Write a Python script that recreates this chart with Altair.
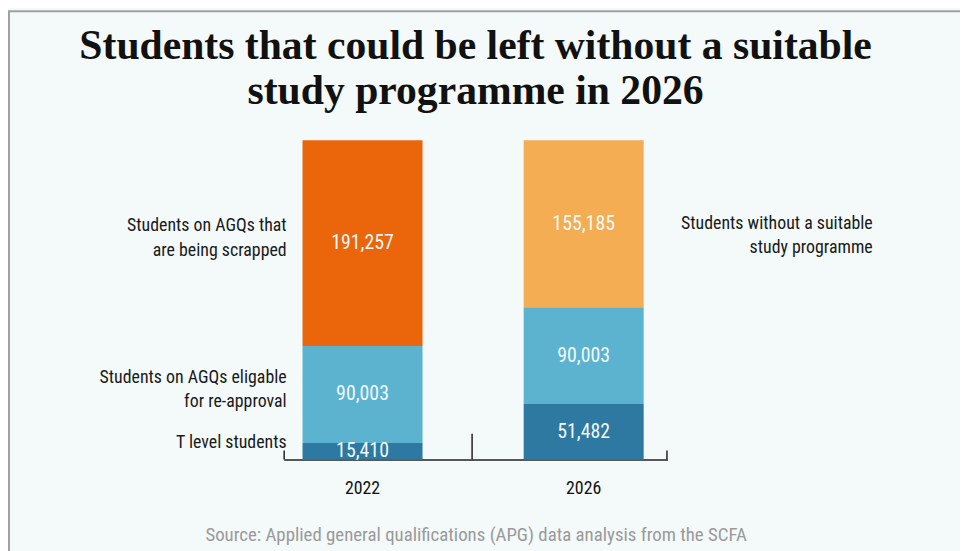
import altair as alt
import pandas as pd

# ---- data ----
years = ["2022", "2022", "2022", "2026", "2026", "2026"]
segments = ["T level", "Eligible", "Scrapped", "T level", "Eligible", "Without"]
values = [15410, 90003, 191257, 51482, 90003, 155185]
notes = ["T level students",
         "Students on AGQs eligable \nfor re-approval",
         "Students on AGQs that\nare being scrapped",
         "", "",
         "Students without a suitable\nstudy programme"]
seg_domain = ["T level", "Eligible", "Scrapped", "Without"]
seg_colors = ["#2E79A1", "#5BB3CF", "#EB650B", "#F4AD52"]
title_lines = ["Students that could be left without a suitable",
               "study programme in 2026"]
source_text = "Source: Applied general qualifications (APG) data analysis from the SCFA"

df = pd.DataFrame({"year": years, "segment": segments, "value": values, "note": notes})
df["y1"] = df.groupby("year")["value"].cumsum()
df["y0"] = df["y1"] - df["value"]
df["mid"] = (df["y0"] + df["y1"]) / 2
total = float(df.groupby("year")["value"].sum().max())

W, H = 387, 322
FONT = "Liberation Sans Narrow, Roboto Condensed, DejaVu Sans Condensed, Roboto, sans-serif"

xscale = alt.Scale(paddingInner=0.4574, paddingOuter=0.0964, align=0.442)
yscale = alt.Scale(domain=[0, total], nice=False, zero=True)

x_enc = alt.X("year:N", scale=xscale,
              axis=alt.Axis(title=source_text, labelAngle=0, ticks=False,
                            labelFont=FONT, labelFontSize=18, labelColor="#111",
                            labelPadding=20, domainColor="#222", domainWidth=1.5,
                            titleFont=FONT, titleFontSize=19, titleFontWeight="normal",
                            titleColor="#9a9a9a", titlePadding=29))
y_enc0 = alt.Y("y0:Q", scale=yscale, axis=None)

base = alt.Chart(df)

bars = base.mark_bar().encode(
    x=x_enc,
    y=y_enc0,
    y2="y1:Q",
    color=alt.Color("segment:N", scale=alt.Scale(domain=seg_domain, range=seg_colors), legend=None),
)

vals = base.mark_text(font=FONT, fontSize=20, color="#F2FAFC", baseline="middle").encode(
    x=alt.X("year:N"),
    y=alt.Y("mid:Q", axis=None),
    text=alt.Text("value:Q", format=","),
)

note_style = dict(font=FONT, fontSize=18, color="#1a1a1a", align="right",
                  baseline="middle", lineBreak="\n", lineHeight=25)

left_two = base.transform_filter(
    (alt.datum.year == "2022") & (alt.datum.segment != "T level")
).mark_text(dy=-17, **note_style).encode(
    x=alt.value(3), y=alt.Y("mid:Q", axis=None), text="note:N")

left_one = base.transform_filter(
    (alt.datum.year == "2022") & (alt.datum.segment == "T level")
).mark_text(dy=-8, **note_style).encode(
    x=alt.value(3), y=alt.Y("mid:Q", axis=None), text="note:N")

right_notes = base.transform_filter(alt.datum.segment == "Without").mark_text(
    dy=0, **note_style
).encode(x=alt.value(594), y=alt.Y("mid:Q", axis=None), text="note:N")

tick_df = pd.DataFrame({"px": [0.5, 190, W - 0.5], "top": [H - 9, H - 26, H - 9]})
ticks = alt.Chart(tick_df).mark_rule(color="#222", strokeWidth=1.5).encode(
    x=alt.X("px:Q", scale=None),
    y=alt.Y("top:Q", scale=None),
    y2=alt.value(H),
)

frame = alt.Chart(pd.DataFrame({"a": [0]})).mark_rect(
    fill=None, stroke="#a0a0a0", strokeWidth=2
).encode(x=alt.value(-277), x2=alt.value(W + 320), y=alt.value(-130), y2=alt.value(H + 120))

chart = alt.layer(frame, bars, vals, left_two, left_one, right_notes, ticks).properties(
    width=W, height=H,
    title=alt.TitleParams(text=title_lines, font="Liberation Serif", fontSize=42,
                          fontWeight="bold", color="#111", anchor="middle",
                          lineHeight=46, offset=0, dy=104),
    background="#F4F9F9",
    padding={"left": 278, "top": 131, "right": 295, "bottom": 90},
    autosize=alt.AutoSizeParams(type="none"),
).configure_view(stroke=None)

chart.save("out.html", embed_options={"renderer": "svg", "actions": False})
